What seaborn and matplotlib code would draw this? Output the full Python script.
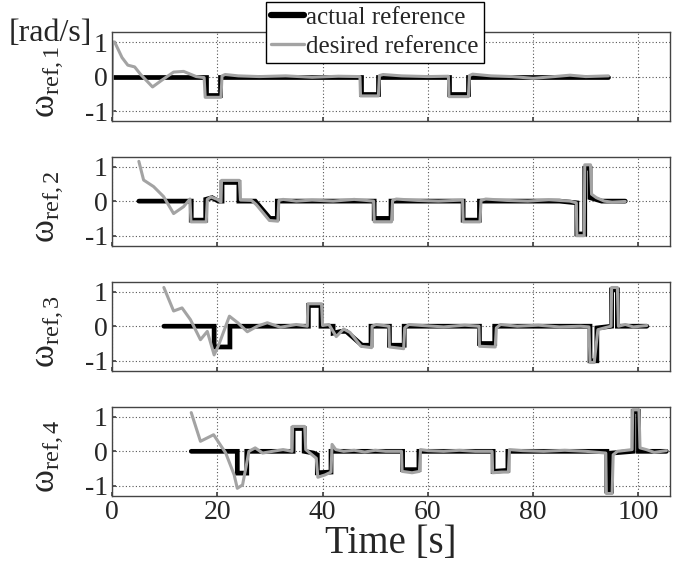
import pandas as pd
import matplotlib
matplotlib.use("Agg")
import matplotlib.pyplot as plt
import seaborn as sns

# --- data: (time [s], value [rad/s]) ---
# actual reference (black)
act_1 = [(0, 0), (17.8, 0), (17.8, -0.53), (20.6, -0.53), (20.6, 0), (47.3, 0), (47.3, -0.5),
         (50.5, -0.5), (50.5, 0), (64.1, 0), (64.1, -0.5), (67.6, -0.5), (67.6, 0), (94.3, 0)]
act_2 = [(5.1, 0), (15.05, 0), (15.05, -0.55), (17.8, -0.55), (17.8, 0.05), (19.0, 0.1), (20.2, 0.0),
         (20.9, 0.0), (20.9, 0.54), (24.1, 0.54), (24.1, 0.0), (27.2, 0.0), (30.0, -0.5), (31.4, -0.5),
         (31.4, 0.0), (49.8, 0.0), (49.8, -0.5), (53.0, -0.5), (53.0, 0.0), (66.7, 0.0), (66.7, -0.55),
         (69.8, -0.55), (69.8, 0.0), (85.0, 0.0), (88.3, -0.05), (88.3, -0.95), (89.8, -0.95),
         (89.8, 0.95), (90.8, 0.95), (90.8, 0.1), (93.0, 0.0), (97.5, 0.0)]
act_3 = [(9.85, 0), (19.4, 0), (19.4, -0.6), (22.4, -0.6), (22.4, 0), (37.3, 0), (37.3, 0.6), (39.7, 0.6),
         (39.7, 0), (42.0, 0), (42.0, -0.2), (43.5, -0.15), (44.5, -0.15), (47.5, -0.55), (49.2, -0.55),
         (49.2, 0), (52.7, 0), (52.7, -0.55), (55.5, -0.55), (55.5, 0), (69.8, 0), (69.8, -0.5),
         (72.7, -0.5), (72.7, 0), (90.8, 0), (90.8, -1.0), (92.1, -1.0), (92.1, -0.05), (94.9, 0),
         (94.9, 1.05), (96.0, 1.05), (96.0, 0), (101.6, 0)]
act_4 = [(15.05, 0), (23.8, 0), (23.8, -0.63), (25.6, -0.63), (25.6, 0), (34.4, 0), (34.4, 0.66),
         (36.5, 0.66), (36.5, 0), (38.3, -0.05), (39.0, -0.1), (39.0, -0.62), (41.6, -0.6), (41.6, 0),
         (55.2, 0), (55.2, -0.53), (58.3, -0.53), (58.3, 0), (72.4, 0), (72.4, -0.58), (75.2, -0.55),
         (75.2, 0), (94.0, 0), (94.0, -1.15), (94.9, -1.15), (94.9, -0.05), (99.0, 0), (99.0, 1.15),
         (100.0, 1.15), (100.0, 0), (105.3, 0)]

# desired reference (gray)
des_1 = [(0, -1.1), (0.1, 1.0), (0.5, 1.0), (1.9, 0.55), (3.0, 0.33), (4.3, 0.28), (5.5, 0.05),
         (7.7, -0.3), (9.5, -0.1), (11.7, 0.13), (13.6, 0.15), (16.0, 0.0), (17.5, -0.03), (17.7, -0.6),
         (20.7, -0.6), (20.9, 0.02), (21.5, 0.06), (24, 0.02), (28, 0.0), (33, 0.02), (38, -0.02),
         (43, 0.01), (47.1, 0.0), (47.2, -0.56), (50.6, -0.56), (50.8, 0.03), (51.5, 0.06), (55, 0.02),
         (60, 0.0), (63.9, 0.01), (64.0, -0.58), (67.7, -0.58), (67.9, 0.03), (68.5, 0.07), (72, 0.02),
         (76, 0.0), (80, -0.05), (84, 0.0), (87, 0.04), (90, 0.0), (94.3, 0.02)]
des_2 = [(5.1, 1.15), (6.0, 0.61), (7.9, 0.42), (9.8, 0.13), (11.7, -0.36), (13.6, -0.16), (14.8, 0.06),
         (15.0, -0.6), (17.9, -0.6), (18.1, 0.05), (18.8, 0.12), (20.0, 0.05), (20.7, -0.03), (20.8, 0.6),
         (24.2, 0.6), (24.4, 0.03), (26.5, 0.02), (27.4, -0.1), (29.9, -0.56), (31.5, -0.58), (31.7, 0.02),
         (32.5, 0.05), (35, 0.0), (38, 0.03), (42, 0.0), (46, 0.05), (49.7, 0.0), (49.8, -0.6),
         (53.1, -0.6), (53.3, 0.02), (54, 0.06), (58, 0.02), (62, 0.0), (66.6, 0.03), (66.7, -0.6),
         (69.9, -0.6), (70.1, 0.02), (71, 0.06), (75, 0.02), (79, 0.0), (83, 0.04), (87, 0.0),
         (88.2, -0.05), (88.3, -1.0), (89.7, -1.0), (89.8, 1.05), (90.9, 1.05), (91.1, 0.2), (92, 0.1),
         (93.5, 0.0), (95, -0.03), (97.5, -0.01)]
des_3 = [(9.85, 1.12), (11.7, 0.44), (13.3, 0.53), (14.9, 0.19), (16.8, -0.39), (18.1, -0.15),
         (19.4, -0.83), (20.3, -0.53), (22.3, 0.29), (23.9, 0.1), (25.7, -0.16), (27.6, 0.0), (29.5, 0.1),
         (32, -0.03), (35, 0.05), (37.1, 0.0), (37.2, 0.65), (39.8, 0.65), (40.0, 0.02), (41.2, 0.05),
         (42.6, -0.3), (44.0, -0.08), (45.2, -0.18), (47.3, -0.58), (49.3, -0.62), (49.4, 0.0),
         (50.2, 0.05), (52.6, 0.0), (52.7, -0.6), (55.4, -0.65), (55.6, -0.05), (56.4, 0.05), (59, 0.02),
         (63, -0.02), (67, 0.03), (69.7, 0.0), (69.8, -0.58), (72.8, -0.6), (73.0, -0.05), (73.8, 0.05),
         (77, 0.0), (81, 0.03), (85, -0.02), (89, 0.0), (90.6, -0.02), (90.8, -1.05), (91.6, -1.05),
         (92.3, -0.1), (93.5, -0.05), (94.8, 0.0), (94.9, 1.12), (96.0, 1.12), (96.2, 0.0), (97.5, 0.05),
         (99, -0.02), (101.6, 0.02)]
des_4 = [(15.05, 1.12), (16.8, 0.29), (19.3, 0.48), (21.6, -0.05), (23.2, -0.68), (23.8, -1.07),
         (24.8, -0.97), (25.6, -0.34), (26.0, 0.0), (27.2, 0.1), (28.6, -0.05), (30.5, 0.0), (32.5, 0.05),
         (34.2, 0.0), (34.3, 0.72), (36.6, 0.72), (36.8, 0.05), (38.0, -0.1), (38.8, -0.2), (39.1, -0.75),
         (40.5, -0.68), (41.6, -0.6), (41.8, 0.2), (42.5, 0.05), (44, 0.0), (46, 0.03), (48, -0.02),
         (50, 0.03), (52, 0.0), (55.0, 0.0), (55.1, -0.58), (57, -0.62), (58.4, -0.58), (58.6, 0.05),
         (60, 0.02), (63, 0.0), (66, 0.03), (69, 0.0), (72.2, 0.0), (72.3, -0.62), (74, -0.6),
         (75.3, -0.6), (75.5, 0.05), (78, 0.02), (82, 0.0), (86, 0.03), (90, 0.0), (93.8, -0.05),
         (93.9, -1.22), (95.0, -1.22), (95.2, -0.1), (96, 0.0), (98.8, 0.05), (98.9, 1.2), (100.1, 1.2),
         (100.3, 0.1), (101.5, 0.05), (103, -0.03), (105.3, 0.02)]

actual = [act_1, act_2, act_3, act_4]
desired = [des_1, des_2, des_3, des_4]
ylabels = ["ω$_{\\mathrm{ref,1}}$", "ω$_{\\mathrm{ref,2}}$", "ω$_{\\mathrm{ref,3}}$", "ω$_{\\mathrm{ref,4}}$"]
xticks = [0, 20, 40, 60, 80, 100]
yticks = [-1, 0, 1]

sns.set_theme(style="ticks")
plt.rcParams["font.family"] = ["Liberation Serif", "DejaVu Serif"]
plt.rcParams["mathtext.fontset"] = "custom"
plt.rcParams["mathtext.rm"] = "Liberation Serif"
plt.rcParams["mathtext.it"] = "Liberation Serif:italic"
plt.rcParams["axes.unicode_minus"] = False

fig = plt.figure(figsize=(6.83, 5.61), dpi=100)
left, width, height = 0.164, 0.817, 0.159
bottoms = [0.784, 0.562, 0.339, 0.116]

for i in range(4):
    ax = fig.add_axes([left, bottoms[i], width, height])
    a = pd.DataFrame(actual[i], columns=["t", "v"])
    d = pd.DataFrame(desired[i], columns=["t", "v"])
    sns.lineplot(data=a, x="t", y="v", sort=False, estimator=None, color="black",
                 linewidth=3.4, ax=ax, label="actual reference", solid_joinstyle="miter")
    sns.lineplot(data=d, x="t", y="v", sort=False, estimator=None, color="#a3a3a3",
                 linewidth=2.2, ax=ax, label="desired reference")
    ax.set_xlim(0, 106)
    ax.set_ylim(-1.29, 1.29)
    ax.set_xticks(xticks)
    ax.set_yticks(yticks)
    ax.set_yticklabels([str(v) for v in yticks])
    ax.grid(True, color="#555555", linestyle=(0, (1, 2)), linewidth=0.8)
    ax.tick_params(direction="in", length=3, labelsize=20, pad=3, color="#444444")
    for s in ax.spines.values():
        s.set_color("#444444")
        s.set_linewidth(1.0)
    ax.set_ylabel(ylabels[i], fontsize=25)
    ax.yaxis.set_label_coords(-0.085, 0.44)
    if i < 3:
        ax.set_xticklabels([])
        ax.set_xlabel("")
    else:
        ax.set_xlabel("Time [s]", fontsize=28, labelpad=0)
    if i == 0:
        handles, labels = ax.get_legend_handles_labels()
    ax.get_legend().remove()

leg = fig.legend(handles, labels, loc="upper center", bbox_to_anchor=(0.549, 0.997),
                 fontsize=18, frameon=True, fancybox=False, edgecolor="black",
                 borderpad=0.2, labelspacing=0.25, handlelength=1.3, handletextpad=0.1,
                 borderaxespad=0)
leg.get_frame().set_linewidth(1.0)
leg.get_frame().set_alpha(1)
leg.legend_handles[0].set_linewidth(4.5)
leg.legend_handles[1].set_linewidth(2.4)

fig.text(0.012, 0.94, "[rad/s]", fontsize=23, va="center", ha="left")

fig.savefig("out.png", dpi=100)
